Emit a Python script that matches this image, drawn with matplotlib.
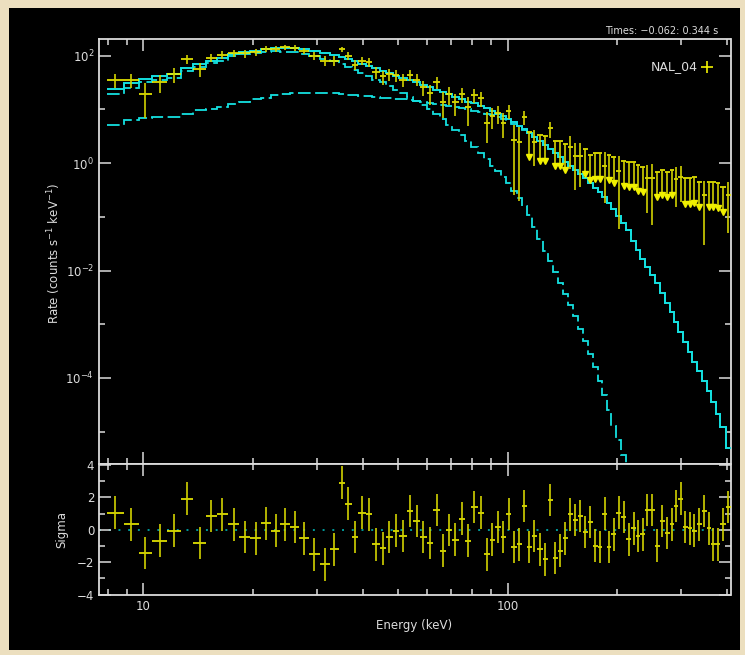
import numpy as np
import matplotlib
matplotlib.use("Agg")
import matplotlib.pyplot as plt
from matplotlib.patches import Rectangle
from matplotlib.ticker import FixedLocator, FixedFormatter, NullFormatter

# ---------------- data ----------------
energy_edges = [7.95, 8.82, 9.70, 10.56, 11.62, 12.64, 13.69, 14.84, 15.89, 17.07,
                18.32, 19.67, 21.08, 22.46, 23.75, 25.27, 26.75, 28.40, 30.49, 32.47,
                34.33, 35.66, 37.39, 38.94, 40.78, 42.42, 44.48, 46.23, 48.32, 50.34,
                52.78, 55.00, 57.57, 59.87, 62.39, 65.33, 67.86, 70.48, 73.34, 76.27,
                79.48, 82.67, 85.87, 89.23, 92.34, 95.61, 98.88, 102.2, 105.8, 109.4,
                112.9, 116.6, 120.3, 124.7, 128.9, 133.1, 137.4, 141.8, 146.4, 151.1,
                155.7, 160.7, 165.9, 171.2, 176.7, 182.0, 186.9, 192.7, 198.7, 204.9,
                211.5, 218.3, 225.0, 231.2, 237.9, 245.4, 253.4, 261.6, 270.0, 278.2,
                286.2, 294.4, 303.3, 311.7, 320.7, 330.6, 341.7, 351.5, 361.6, 372.1,
                383.9, 396.3, 409.1]

rate = [35, 35, 19, 32, 45, 88, 56, 92, 104, 110,
        110, 116, 135, 134, 143, 139, 124, 100, 80, 81,
        132, 100, 68, 80, 75, 49, 41, 45, 43, 36,
        44, 36, 26, 20, 32, 14, 19, 13.6, 19, 11,
        18.5, 16, 5.6, 7.4, 8.4, 5.7, 9.3, 2.7, 2.5, 7.2,
        3.85, 2.5, 3.3, 3.2, 4.45, 2.58, 2.58, 2.24, 1.97, 1.36,
        1.36, 1.83, 1.42, 1.52, 1.52, 0.88, 1.42, 1.28, 0.71, 1.11,
        1.05, 1.05, 0.91, 0.86, 0.52, 0.52, 0.69, 0.74, 0.69, 0.74,
        0.50, 0.54, 0.52, 0.52, 0.54, 0.45, 0.25, 0.45, 0.45, 0.43,
        0.36, 0.25]

rate_err = [10, 10, 12, 12, 14, 17, 16, 16, 17, 17,
            18, 18, 18, 18, 18, 18, 18, 18, 17, 17,
            16, 16, 14, 14, 14, 12, 12, 11, 11, 10,
            10, 9, 8, 8, 8, 7, 7, 6, 6, 6,
            5.5, 5, 3.2, 3, 3, 2.8, 2.6, 2.45, 2.3, 2,
            0, 1.6, 0, 0, 1.5, 0, 0, 0, 1.2, 1.05,
            1.0, 0, 0, 0, 0, 0.7, 0, 0, 0.65, 0,
            0, 0, 0, 0, 0.4, 0.45, 0, 0, 0, 0,
            0.35, 0.35, 0, 0, 0, 0, 0.22, 0, 0, 0,
            0, 0.2]

upper_limit = [False] * 50 + [
    True, False, True, True, False, True, True, True, False, False,
    False, True, True, True, True, False, True, True, False, True,
    True, True, True, True, False, False, True, True, True, True,
    False, False, True, True, True, True, False, True, True, True,
    True, False]

model_total = [24, 31, 37, 41, 45, 58, 69, 79, 89, 107,
               117, 123, 132, 138, 138, 138, 132, 123, 112, 102,
               93, 85, 78, 71, 65, 59, 52, 47, 42, 38,
               35, 32, 29, 26, 23, 21, 19, 17, 15.5, 14,
               12.9, 11.7, 10.5, 9.3, 8.3, 7.4, 6.6, 5.8, 5.0, 4.3,
               3.6, 3.1, 2.6, 2.2, 1.86, 1.55, 1.29, 1.07, 0.89, 0.74,
               0.63, 0.52, 0.42, 0.35, 0.29, 0.23, 0.18, 0.14, 0.105, 0.078,
               0.056, 0.035, 0.024, 0.0166, 0.0117, 0.0083, 0.0058, 0.0038, 0.0025, 0.00166,
               0.00112, 0.00072, 0.00046, 0.0003, 0.0002, 1.32e-4, 8.7e-5, 5.6e-5, 3.5e-5, 2.1e-5,
               1.2e-5, 5e-6]

model_comp1 = [19, 25, 32, 35, 39, 51, 62, 72, 81, 98,
               107, 112, 117, 120, 117, 115, 107, 98, 87, 78,
               69, 62, 54, 48, 42, 36, 32, 27, 23, 20,
               17, 14.5, 12, 10, 8.1, 6.6, 5.2, 4.2, 3.3, 2.6,
               2.0, 1.55, 1.17, 0.89, 0.71, 0.55, 0.42, 0.3, 0.22, 0.16,
               0.107, 0.066, 0.038, 0.023, 0.0148, 0.0095, 0.0059, 0.0037, 0.0023, 0.0014,
               8.3e-4, 4.9e-4, 2.8e-4, 1.62e-4, 8.9e-5, 4.8e-5, 2.5e-5, 1.3e-5, 6.9e-6, 3.6e-6,
               1.9e-6]

model_comp2 = [5.1, 6.3, 7.0, 7.1, 7.2, 8.2, 9.8, 10.2, 11, 12.6,
               13.8, 15.5, 16.6, 18.2, 19, 20, 20.4, 20.4, 20, 20,
               19, 18.6, 18.2, 17.8, 17.4, 17, 16.6, 16.2, 15.8, 15.5,
               14.8, 14.5, 13.8, 13.2, 12.6, 12, 11.5, 11, 10.5, 10,
               9.3, 8.9, 8.3, 7.8, 7.2, 6.6, 6.0, 5.4, 4.8, 4.2,
               3.5, 3.0, 2.55, 2.18, 1.85, 1.54, 1.28, 1.07, 0.89, 0.74,
               0.63, 0.52, 0.42, 0.35, 0.29, 0.23, 0.18, 0.14, 0.105, 0.078,
               0.056, 0.035, 0.024, 0.0166, 0.0117, 0.0083, 0.0058, 0.0038, 0.0025, 0.00166,
               0.00112, 0.00072, 0.00046, 0.0003, 0.0002, 1.32e-4, 8.7e-5, 5.6e-5, 3.5e-5, 2.1e-5,
               1.2e-5, 5e-6]

residual_sigma = [1.06, 0.33, -1.43, -0.67, -0.06, 1.92, -0.82, 0.86, 0.94, 0.33,
                  -0.45, -0.53, 0.39, -0.06, 0.33, 0.17, -0.53, -1.51, -2.13, -1.21,
                  2.90, 1.61, -0.45, 1.06, 0.94, -0.90, -1.15, -0.45, -0.06, -0.37,
                  1.15, 0.53, -0.45, -0.82, 1.23, -1.29, 0.00, -0.61, 0.69, -0.67,
                  1.39, 1.06, -1.51, -0.61, 0.17, -0.45, 0.98, -1.06, -0.90, 1.47,
                  -1.06, -0.37, -1.21, -1.82, 1.84, -1.74, -1.29, -0.53, 0.94, 0.61,
                  0.84, -0.14, 0.47, -0.98, -1.06, 1.00, -1.06, -0.29, 1.06, 0.78,
                  -0.59, 0.08, -0.37, -0.29, 1.23, 1.23, -0.98, 0.53, -0.20, 0.33,
                  1.45, 1.92, 0.17, 0.08, -0.06, 0.33, 1.15, 0.08, -0.90, -0.90,
                  0.33, 1.39]

title_text = "Times: \u22120.062: 0.344 s"
detector = "NAL_04"

# ---------------- styling ----------------
W, H = 745, 655
FG = "#dcdcdc"
YEL = "#f0f000"
YEL_V = "#d2d200"
CYAN = "#14e0e0"
BEIGE = "#ecdfbf"

fig = plt.figure(figsize=(W / 100, H / 100), dpi=100)
fig.patch.set_facecolor(BEIGE)
fig.add_artist(Rectangle((9 / W, 1 - 650 / H), 731 / W, 642 / H,
                         transform=fig.transFigure, facecolor="black",
                         edgecolor="none", zorder=-10))

L, R = 99, 730.5
T_top, B_top, B_res = 39.3, 464, 594.7
ax = fig.add_axes([L / W, 1 - B_top / H, (R - L) / W, (B_top - T_top) / H])
axr = fig.add_axes([L / W, 1 - B_res / H, (R - L) / W, (B_res - B_top) / H])

for a in (ax, axr):
    a.set_facecolor("black")
    for s in a.spines.values():
        s.set_color(FG)
        s.set_linewidth(1.3)
    a.set_xscale("log")
    a.set_xlim(7.55, 409)
    a.xaxis.set_major_locator(FixedLocator([10, 100]))
    a.xaxis.set_minor_locator(FixedLocator([8, 9, 20, 30, 40, 50, 60, 70, 80, 90, 200, 300, 400]))
    a.xaxis.set_minor_formatter(NullFormatter())
    a.tick_params(which="both", direction="in", top=True, right=True,
                  colors=FG, width=1.1, labelsize=8.5)
    a.tick_params(which="major", length=8.5)
    a.tick_params(which="minor", length=4.5)

edges = np.array(energy_edges)
lo, hi = edges[:-1], edges[1:]
xc = np.sqrt(lo * hi)
D = np.array(rate, dtype=float)
E = np.array(rate_err, dtype=float)
UL = np.array(upper_limit)

# ---------------- top panel ----------------
ax.set_yscale("log")
ax.set_ylim(2.5e-6, 202)
ax.yaxis.set_major_locator(FixedLocator([1e-4, 1e-2, 1, 1e2]))
ax.yaxis.set_major_formatter(FixedFormatter(["10$^{-4}$", "10$^{-2}$", "10$^{0}$", "10$^{2}$"]))
ax.yaxis.set_minor_locator(FixedLocator([1e-5, 1e-3, 1e-1, 1e1]))
ax.yaxis.set_minor_formatter(NullFormatter())
ax.tick_params(axis="x", labelbottom=False)

n1 = len(model_comp1)
ax.stairs(model_comp2, edges, baseline=None, color=CYAN, lw=1.3,
          linestyle=(0, (7, 2.5)), zorder=2)
ax.stairs(model_comp1, edges[:n1 + 1], baseline=None, color=CYAN, lw=1.3,
          linestyle=(0, (7, 2.5)), zorder=2)
ax.stairs(model_total, edges, baseline=None, color=CYAN, lw=1.4, zorder=3)

m = ~UL
ax.hlines(D[m], lo[m], hi[m], color=YEL, lw=1.2, zorder=4)
ax.vlines(xc[m], np.maximum(D[m] - E[m], 1e-7), D[m] + E[m], color=YEL_V, lw=1.2, zorder=4)
arrow = 10 ** -0.47
ax.hlines(D[UL], lo[UL], hi[UL], color=YEL, lw=1.2, zorder=4)
ax.vlines(xc[UL], D[UL] * arrow, D[UL], color=YEL_V, lw=1.2, zorder=4)
ax.plot(xc[UL], D[UL] * arrow, linestyle="none", marker="v", ms=5,
        color=YEL, mec=YEL, zorder=4)

# ---------------- residual panel ----------------
res = np.array(residual_sigma)
axr.set_ylim(-4.0, 4.05)
axr.yaxis.set_major_locator(FixedLocator([-4, -2, 0, 2, 4]))
axr.yaxis.set_minor_locator(FixedLocator([-3, -1, 1, 3]))
axr.xaxis.set_major_formatter(FixedFormatter(["10", "100"]))
axr.axhline(0, color="#009a9a", lw=1.4, linestyle=(0, (1, 4)), zorder=1)
axr.hlines(res, lo, hi, color=YEL, lw=1.2, zorder=3)
axr.vlines(xc, res - 1, res + 1, color=YEL_V, lw=1.2, zorder=3)

# ---------------- texts ----------------
fig.text(54 / W, 1 - 253 / H, "Rate (counts s$^{-1}$ keV$^{-1}$)", rotation=90,
         ha="center", va="center", color=FG, fontsize=8.5)
fig.text(62 / W, 1 - 530 / H, "Sigma", rotation=90, ha="center", va="center",
         color=FG, fontsize=8.5)
fig.text(414.5 / W, 1 - 626 / H, "Energy (keV)", ha="center", va="center",
         color=FG, fontsize=8.5)
fig.text(718 / W, 1 - 31 / H, title_text, ha="right", va="center", color=FG, fontsize=7)
fig.text(698 / W, 1 - 67 / H, detector, ha="right", va="center", color=FG, fontsize=9)
ax.plot([0.962], [0.935], transform=ax.transAxes, marker="+", ms=8, mew=1.2,
        color=YEL, linestyle="none")

fig.savefig("out.png", dpi=100, facecolor=fig.get_facecolor())
